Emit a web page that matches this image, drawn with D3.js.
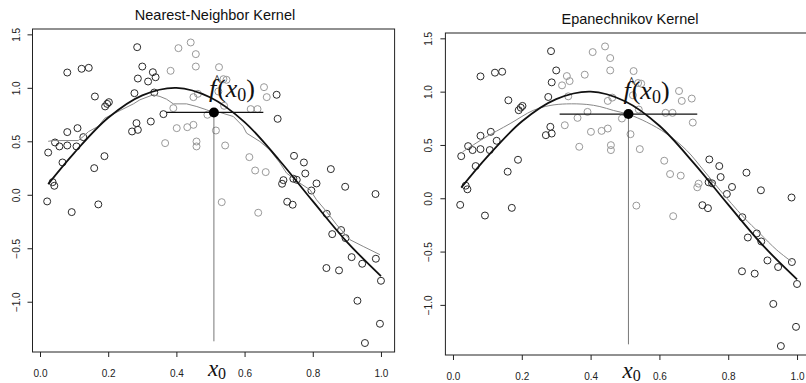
<!DOCTYPE html>
<html><head><meta charset="utf-8">
<script src="https://cdn.jsdelivr.net/npm/d3@7"></script>
<style>body{margin:0;background:#fff} svg{display:block}</style>
</head><body>
<svg id="c" width="806" height="383"></svg>
<script>
// ---- data ----
const pointX = [0.024,0.044,0.057,0.066,0.037,0.042,0.080,0.080,0.080,0.110,0.107,0.122,0.143,0.127,0.159,0.161,0.189,0.191,0.202,0.197,
  0.270,0.283,0.287,0.277,0.285,0.287,0.300,0.317,0.331,0.339,0.325,0.335,0.362,0.367,0.383,0.391,0.401,0.406,0.432,0.442,
  0.450,0.457,0.457,0.459,0.459,0.450,0.463,0.491,0.516,0.525,0.538,0.547,0.523,0.540,0.543,0.614,0.618,0.638,0.631,0.662,
  0.657,0.665,0.694,0.697,0.745,0.774,0.778,0.743,0.753,0.714,0.710,0.811,0.796,0.853,0.895,0.984,0.021,0.093,0.171,0.533,
  0.640,0.725,0.741,0.841,0.857,0.883,0.896,0.914,0.945,0.985,1.000,0.840,0.877,0.931,0.997,0.953];
const pointY = [0.395,0.489,0.452,0.302,0.118,0.084,1.143,0.586,0.461,0.623,0.452,1.178,1.187,0.539,0.249,0.919,0.361,0.826,0.866,0.850,
  0.592,0.670,0.607,0.950,1.380,1.087,1.199,1.059,1.146,1.099,0.685,0.956,0.754,0.483,1.159,0.810,0.623,1.371,0.632,1.424,
  0.654,1.315,1.199,0.498,0.452,0.913,0.944,0.748,0.601,1.193,1.081,1.075,0.966,0.832,0.461,0.352,0.801,0.801,0.227,0.212,
  1.006,0.913,0.935,0.710,0.364,0.302,0.199,0.150,0.140,0.137,0.103,0.106,0.040,0.240,0.075,0.007,-0.062,-0.162,-0.090,-0.069,
  -0.168,-0.065,-0.093,-0.178,-0.368,-0.330,-0.405,-0.583,-0.645,-0.598,-0.804,-0.685,-0.707,-0.991,-1.206,-1.386];

const truthX = [0.024,0.1,0.2,0.3,0.4,0.5,0.6,0.7,0.8,0.9,1.0];
const truthY = [0.10,0.39,0.72,0.93,1.00,0.91,0.68,0.33,-0.06,-0.44,-0.76];

const nnX = [0.024,0.039,0.112,0.127,0.142,0.171,0.19,0.21,0.235,0.274,0.293,0.332,0.352,0.371,0.391,0.43,0.46,0.489,0.513,0.528,
  0.567,0.596,0.606,0.645,0.674,0.704,0.723,0.762,0.792,0.811,0.84,0.87,0.909,0.948,0.997];
const nnY = [0.50,0.507,0.507,0.545,0.59,0.64,0.716,0.748,0.788,0.85,0.888,0.935,0.919,0.894,0.85,0.85,0.825,0.794,0.763,0.77,
  0.732,0.638,0.576,0.498,0.42,0.296,0.203,0.109,0.047,-0.047,-0.156,-0.28,-0.42,-0.483,-0.56];

const epaX = [0.028,0.088,0.166,0.233,0.282,0.33,0.389,0.427,0.466,0.511,0.563,0.621,0.679,0.728,0.776,0.844,0.892,0.941,0.984];
const epaY = [0.435,0.559,0.70,0.824,0.87,0.885,0.88,0.86,0.824,0.786,0.714,0.605,0.45,0.264,0.077,-0.175,-0.33,-0.485,-0.594];

const xTicks = [0.0,0.2,0.4,0.6,0.8,1.0];
const yTicks = [-1.0,-0.5,0.0,0.5,1.0,1.5];
const titles = ["Nearest-Neighbor Kernel","Epanechnikov Kernel"];
const x0 = 0.51;
const fhat = [0.77, 0.79];
const windows = [[0.37,0.655],[0.31,0.71]];
const lightWindows = [[0.364,0.67],[0.31,0.715]];
const fits = [[nnX,nnY],[epaX,epaY]];
const vLineBottom = -1.37;

// ---- layout ----
const panels = [
  {xr:[32.5,394.6], yr:[352,29], titleX:215, titleY:20, fY:96.5, x0Y:376},
  {xr:[445.4,810.8], yr:[355,33], titleX:630, titleY:23.5, fY:98.5, x0Y:378}
];
const xDom = [-0.022,1.04], yDom = [-1.47,1.55];
const serif = "'Liberation Serif','Times New Roman',serif";
const sans = "'Liberation Sans',Arial,sans-serif";
const svg = d3.select("#c");
svg.append("rect").attr("width",806).attr("height",383).attr("fill","#fff");

panels.forEach((p,i)=>{
  const x = d3.scaleLinear().domain(xDom).range(p.xr);
  const y = d3.scaleLinear().domain(yDom).range(p.yr);
  const g = svg.append("g");
  // box
  g.append("rect").attr("x",p.xr[0]).attr("y",p.yr[1])
    .attr("width",p.xr[1]-p.xr[0]).attr("height",p.yr[0]-p.yr[1])
    .attr("fill","none").attr("stroke","#222").attr("stroke-width",1);
  // axes
  const ax = g.append("g").attr("transform",`translate(0,${p.yr[0]})`)
    .call(d3.axisBottom(x).tickValues(xTicks).tickSize(5).tickSizeOuter(0).tickFormat(d3.format(".1f")));
  ax.select(".domain").remove();
  ax.selectAll("text").attr("y",24.5).attr("dy",0);
  const ay = g.append("g").attr("transform",`translate(${p.xr[0]},0)`)
    .call(d3.axisLeft(y).tickValues(yTicks).tickSize(5).tickSizeOuter(0).tickFormat(d3.format(".1f")));
  ay.select(".domain").remove();
  ay.selectAll("text").attr("transform","rotate(-90)").attr("x",0).attr("y",-13).attr("dy",0)
    .attr("text-anchor","middle");
  [ax,ay].forEach(a=>{
    a.selectAll("text").attr("font-family",sans).attr("font-size",10).attr("fill","#222");
    a.selectAll("line").attr("stroke","#222");
  });
  // title
  g.append("text").attr("x",p.titleX).attr("y",p.titleY).attr("text-anchor","middle")
    .attr("font-family",sans).attr("font-size",14.5).attr("fill","#111").text(titles[i]);
  // points
  const lw = lightWindows[i];
  g.append("g").selectAll("circle").data(pointX.map((v,k)=>[v,pointY[k]])).join("circle")
    .attr("cx",d=>x(d[0])).attr("cy",d=>y(d[1])).attr("r",3.5)
    .attr("fill","none").attr("stroke-width",1)
    .attr("stroke",d=>(d[0]>=lw[0]&&d[0]<=lw[1])?"#999":"#2a2a2a");
  // fitted gray curve
  const fx = fits[i][0], fy = fits[i][1];
  const fitLine = d3.line().x(d=>x(d[0])).y(d=>y(d[1]))
    .curve(i===0?d3.curveLinear:d3.curveCatmullRom);
  g.append("path").attr("d",fitLine(fx.map((v,k)=>[v,fy[k]])))
    .attr("fill","none").attr("stroke","#888").attr("stroke-width",1);
  // true curve
  const tl = d3.line().x(d=>x(d[0])).y(d=>y(d[1])).curve(d3.curveCatmullRom);
  g.append("path").attr("d",tl(truthX.map((v,k)=>[v,truthY[k]])))
    .attr("fill","none").attr("stroke","#111").attr("stroke-width",1.8);
  // vertical line at x0
  g.append("line").attr("x1",x(x0)).attr("x2",x(x0)).attr("y1",y(fhat[i])).attr("y2",y(vLineBottom))
    .attr("stroke","#555").attr("stroke-width",0.8);
  // window line
  g.append("line").attr("x1",x(windows[i][0])).attr("x2",x(windows[i][1])).attr("y1",y(fhat[i])).attr("y2",y(fhat[i]))
    .attr("stroke","#111").attr("stroke-width",1.3);
  // dot
  g.append("circle").attr("cx",x(x0)).attr("cy",y(fhat[i])).attr("r",5).attr("fill","#000");
  // f-hat label
  const fx0 = x(x0)-5;
  const ft = g.append("text").attr("x",fx0).attr("y",p.fY)
    .attr("font-family",serif).attr("font-size",26).attr("fill","#111");
  ft.append("tspan").attr("font-style","italic").text("f");
  ft.append("tspan").attr("dx",1).text("(");
  ft.append("tspan").attr("font-style","italic").text("x");
  ft.append("tspan").attr("font-size",18).attr("dy",4).text("0");
  ft.append("tspan").attr("dy",-4).text(")");
  g.append("text").attr("x",fx0+8).attr("y",p.fY-11).attr("text-anchor","middle")
    .attr("font-family",serif).attr("font-size",16).attr("fill","#111").text("^");
  // x0 label
  const xt = g.append("text").attr("x",x(x0)-6).attr("y",p.x0Y)
    .attr("font-family",serif).attr("font-size",23).attr("fill","#111");
  xt.append("tspan").attr("font-style","italic").text("x");
  xt.append("tspan").attr("font-size",16).attr("dy",3).text("0");
});
</script>
</body></html>
